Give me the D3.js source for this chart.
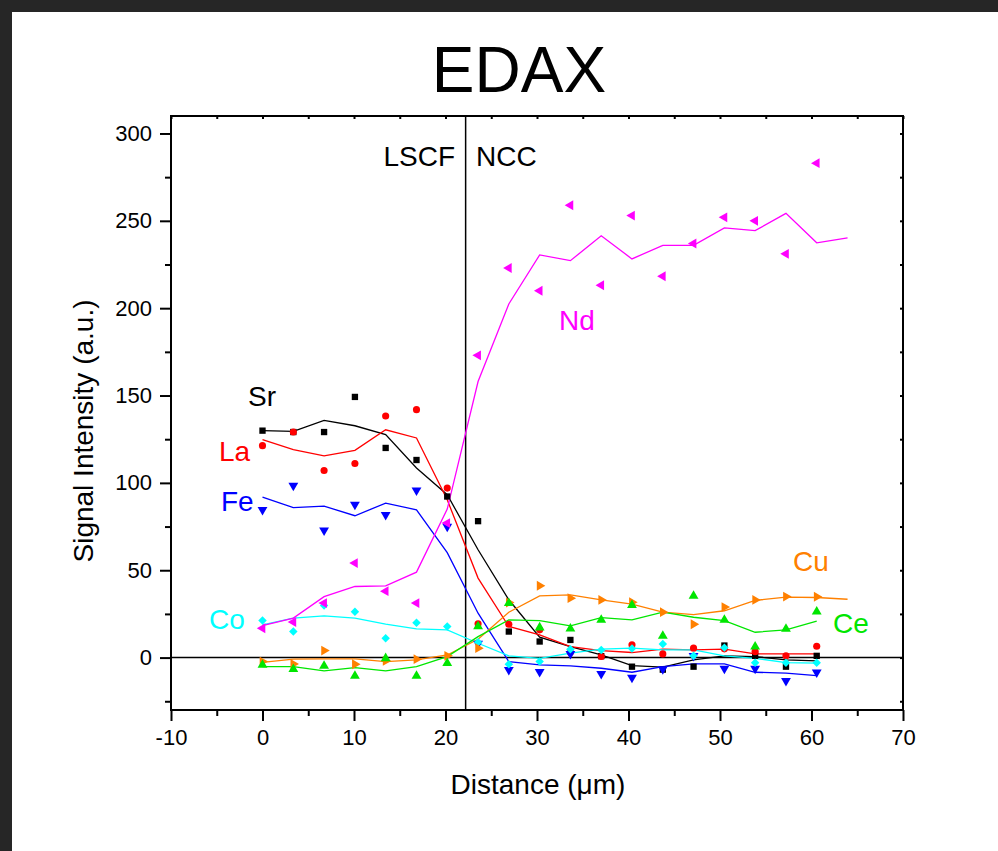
<!DOCTYPE html>
<html lang="en">
<head>
<meta charset="UTF-8">
<title>EDAX</title>
<style>
  html, body { margin: 0; padding: 0; background: #262626; }
  svg { display: block; }
  text { font-family: "Liberation Sans", Arial, sans-serif; }
</style>
</head>
<body>
<svg class="chart"></svg>
<script src="https://cdnjs.cloudflare.com/ajax/libs/d3/7.8.5/d3.min.js"></script>
<script>
// distance (um) of each measured point, last entry only used by the smoothed lines
const distance = [0, 3.37, 6.73, 10.1, 13.46, 16.83, 20.19, 23.56, 26.92, 30.29,
                  33.65, 37.02, 40.38, 43.75, 47.11, 50.48, 53.84, 57.21, 60.57, 63.94];

// scatter values
const srPts = [129.9, 129.1, 129.1, 149.2, 120, 113.1, 92.2, 78.1, 14.9, 9.2, 10.1, 0.8, -5.2, -6.9, -5.2, 6.9, 1, -5.2, 1];
const laPts = [121.3, 129.1, 107.1, 111.1, 138.3, 141.9, 97, 19.3, 19.1, 15.9, 3, 0.6, 7.3, 2.1, 5.4, 5, 3.4, 1, 6.5];
const fePts = [84.6, 98.5, 72.8, 87.6, 81.7, 95.7, 75, 8, -7, -8.2, 2.1, -9.3, -11.5, -6.6, 1, -6.3, -6.3, -13.3, -8.4];
const coPts = [21.2, 14.9, 29.8, 26.2, 11.1, 20, 17.8, 8.8, -3.8, -2.3, 4.8, 4.4, 5.2, 7.8, 1, 5.7, -2.9, -3, -3];
const ndPts = [16.8, 20.3, 31.2, 54.1, 38, 31.2, 77, 173, 223, 210, 258.9, 213.1, 253, 218.3, 237, 252, 250, 231.1, 283];
const cuPts = [-2.3, -3.6, 4, -3.8, -1.9, -0.9, 1, 5.4, 31.5, 41.1, 34, 33, 31.7, 26, 19.1, 28.9, 33, 34.9, 34.8];
const cePts = [-4.2, -6.6, -4.8, -10.5, -0.4, -10.5, -3.2, 17.8, 31.2, 17.2, 16.6, 21.6, 30, 12.4, 35.3, 21.6, 6.3, 16.4, 26.3];

// smoothed line values
const srLine = [129.9, 129.5, 135.8, 132.7, 127.6, 108.5, 93.2, 61.7, 33.1, 11.7, 6.3, 1.5, -4.6, -5.5, -1.3, 1, 0.6, -1.3, -1.9];
const laLine = [124.7, 119, 115.5, 118.6, 130.4, 125.7, 90.3, 45.5, 17.8, 13, 6.3, 4, 2.9, 4.8, 4.4, 4.8, 2.1, 2.1, 2.1];
const feLine = [91.9, 85.8, 86.7, 81.2, 88.4, 84.6, 60.1, 25.4, -2.3, -4.2, -4.8, -6.1, -8.4, -5.2, -3.6, -3.6, -8.4, -8.9, -10.3];
const coLine = [18.7, 22.6, 23.9, 22.6, 19.1, 16.4, 15.9, 8.2, 1, -0.4, 2.5, 4.8, 5.4, 4.4, 4.4, 1, -0.4, -2.9, -3.2];
const ndLine = [18.3, 22.6, 34.9, 40.7, 41.1, 48.9, 85, 158, 202.4, 230.5, 227.2, 241.4, 228.2, 236, 236, 246, 244.4, 254.3, 237.4, 240.2];
const cuLine = [-2.7, -0.9, -0.7, -0.7, -2.3, -1.3, 1.5, 10.5, 26, 35.3, 35.9, 33, 30.6, 26, 24.6, 26.8, 32.7, 34.6, 34.4, 33.4];
const ceLine = [-5.2, -5.2, -7.6, -5.7, -7.6, -5.2, 0.6, 12, 21.6, 21.2, 18.2, 22.9, 21.6, 26, 23.1, 21.2, 14.5, 15.9, 20.9];

const elements = ['Sr', 'La', 'Fe', 'Co', 'Nd', 'Cu', 'Ce'];
const xTicks = [-10, 0, 10, 20, 30, 40, 50, 60, 70];
const yTicks = [0, 50, 100, 150, 200, 250, 300];
const interfaceX = 22.2;

const series = [
  {name: 'Sr', pts: srPts, line: srLine, color: '#000000', sym: d3.symbolSquare, rot: 0,   size: 40, lx: 248, ly: 406},
  {name: 'La', pts: laPts, line: laLine, color: '#ff0000', sym: d3.symbolCircle, rot: 0,   size: 40, lx: 219, ly: 461},
  {name: 'Fe', pts: fePts, line: feLine, color: '#0000ff', sym: d3.symbolTriangle, rot: 180, size: 42, lx: 221, ly: 511},
  {name: 'Co', pts: coPts, line: coLine, color: '#00ffff', sym: d3.symbolSquare, rot: 45,  size: 36, lx: 209, ly: 629},
  {name: 'Nd', pts: ndPts, line: ndLine, color: '#ff00ff', sym: d3.symbolTriangle, rot: -90, size: 42, lx: 559, ly: 330},
  {name: 'Cu', pts: cuPts, line: cuLine, color: '#ff8000', sym: d3.symbolTriangle, rot: 90,  size: 42, lx: 793, ly: 571},
  {name: 'Ce', pts: cePts, line: ceLine, color: '#00e600', sym: d3.symbolTriangle, rot: 0,   size: 42, lx: 833, ly: 633}
];

const W = 998, H = 851;
const svg = d3.select('.chart').attr('width', W).attr('height', H);

// white sheet on the dark page
svg.append('rect').attr('x', 12).attr('y', 12).attr('width', W - 12).attr('height', H - 12).attr('fill', '#ffffff');

const plot = {left: 171, right: 903, top: 116, bottom: 710};

const x = d3.scaleLinear().domain([-10, 70]).range([plot.left, plot.right]);
const y = d3.scaleLinear().domain([-30, 310]).range([plot.bottom, plot.top]);

// title
svg.append('text').attr('x', 519).attr('y', 92).attr('text-anchor', 'middle')
   .attr('font-size', 64).text('EDAX');

// bottom axis: major outward, minor outward shorter
const xMinor = d3.range(-10, 71, 5).filter(v => v % 10 !== 0);
const axBottom = svg.append('g').attr('transform', `translate(0,${plot.bottom})`);
axBottom.call(d3.axisBottom(x).tickValues(xTicks).tickSize(11).tickPadding(8).tickSizeOuter(0).tickFormat(d => String(d)));
axBottom.append('g').call(d3.axisBottom(x).tickValues(xMinor).tickSize(6).tickFormat(''));
axBottom.selectAll('.domain').remove();
axBottom.selectAll('text').attr('font-size', 22).attr('fill', '#000').attr('font-family', '"Liberation Sans", Arial, sans-serif');
axBottom.selectAll('line').attr('stroke', '#000').attr('stroke-width', 2);

// left axis
const yMinor = d3.range(-25, 310, 50);
const axLeft = svg.append('g').attr('transform', `translate(${plot.left},0)`);
axLeft.call(d3.axisLeft(y).tickValues(yTicks).tickSize(11).tickPadding(8).tickSizeOuter(0).tickFormat(d => String(d)));
axLeft.append('g').call(d3.axisLeft(y).tickValues(yMinor).tickSize(6).tickFormat(''));
axLeft.selectAll('.domain').remove();
axLeft.selectAll('text').attr('font-size', 22).attr('fill', '#000').attr('font-family', '"Liberation Sans", Arial, sans-serif');
axLeft.selectAll('line').attr('stroke', '#000').attr('stroke-width', 2);

// top and right mirror ticks, inward
const axTop = svg.append('g').attr('transform', `translate(0,${plot.top})`);
axTop.call(d3.axisTop(x).tickValues(d3.range(-10, 71, 5)).tickSize(-3).tickFormat('').tickSizeOuter(0));
const axRight = svg.append('g').attr('transform', `translate(${plot.right},0)`);
axRight.call(d3.axisRight(y).tickValues(d3.range(-25, 310, 25)).tickSize(-3).tickFormat('').tickSizeOuter(0));
[axTop, axRight].forEach(g => {
  g.selectAll('.domain').remove();
  g.selectAll('line').attr('stroke', '#000').attr('stroke-width', 2);
});

// frame
svg.append('rect').attr('x', plot.left).attr('y', plot.top)
   .attr('width', plot.right - plot.left).attr('height', plot.bottom - plot.top)
   .attr('fill', 'none').attr('stroke', '#000').attr('stroke-width', 2);

// zero line and interface line
svg.append('line').attr('x1', plot.left).attr('x2', plot.right)
   .attr('y1', y(0)).attr('y2', y(0)).attr('stroke', '#000').attr('stroke-width', 1.5);
svg.append('line').attr('x1', x(interfaceX)).attr('x2', x(interfaceX))
   .attr('y1', plot.top).attr('y2', plot.bottom).attr('stroke', '#000').attr('stroke-width', 1.5);

// axis titles
svg.append('text').attr('x', 538).attr('y', 794).attr('text-anchor', 'middle')
   .attr('font-size', 28).text('Distance (\u03bcm)');
svg.append('text').attr('transform', 'translate(93,431) rotate(-90)').attr('text-anchor', 'middle')
   .attr('font-size', 28).text('Signal Intensity (a.u.)');

// region labels
svg.append('text').attr('x', 455).attr('y', 166).attr('text-anchor', 'end').attr('font-size', 28).text('LSCF');
svg.append('text').attr('x', 476).attr('y', 166).attr('font-size', 28).text('NCC');

// lines
const lineGen = d3.line().x((d, i) => x(distance[i])).y(d => y(d));
const marks = svg.append('g');
series.forEach(s => {
  marks.append('path').datum(s.line)
       .attr('d', lineGen).attr('fill', 'none')
       .attr('stroke', s.color).attr('stroke-width', 1.3);
});

// points
series.forEach(s => {
  marks.append('g').selectAll('path').data(s.pts).join('path')
       .attr('d', d3.symbol().type(s.sym).size(s.size))
       .attr('transform', (d, i) => `translate(${x(distance[i])},${y(d)}) rotate(${s.rot})`)
       .attr('fill', s.color);
});

// element names
series.forEach(s => {
  svg.append('text').attr('x', s.lx).attr('y', s.ly).attr('font-size', 28)
     .attr('fill', s.color).text(s.name);
});
</script>
</body>
</html>
